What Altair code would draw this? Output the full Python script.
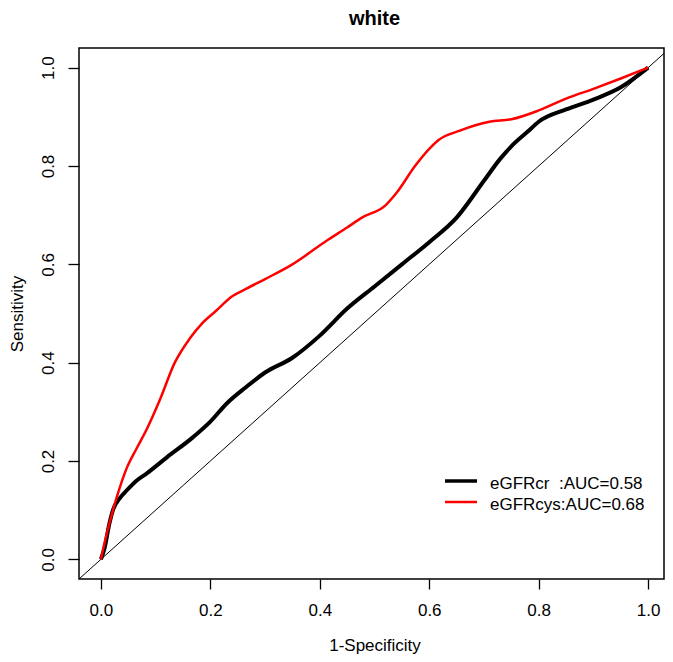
import altair as alt
import pandas as pd

# ---- data ----
red_x = [0, 0.008, 0.016, 0.03, 0.047, 0.065, 0.084, 0.108, 0.135, 0.163, 0.185, 0.21, 0.24, 0.265,
         0.3, 0.35, 0.415, 0.45, 0.477, 0.52, 0.54, 0.574, 0.6, 0.616, 0.656, 0.71, 0.75, 0.8,
         0.85, 0.9, 0.95, 1.0]
red_y = [0, 0.04, 0.075, 0.13, 0.185, 0.225, 0.265, 0.325, 0.4, 0.45, 0.48, 0.505, 0.535, 0.55,
         0.57, 0.6, 0.65, 0.675, 0.695, 0.72, 0.745, 0.8, 0.835, 0.852, 0.872, 0.89, 0.895, 0.913,
         0.937, 0.957, 0.978, 1.0]

black_x = [0, 0.007, 0.015, 0.022, 0.035, 0.047, 0.065, 0.084, 0.12, 0.168, 0.2, 0.23, 0.265,
           0.3, 0.35, 0.4, 0.45, 0.5, 0.55, 0.6, 0.65, 0.7, 0.73, 0.75, 0.78, 0.8, 0.85, 0.9,
           0.95, 1.0]
black_y = [0, 0.024, 0.07, 0.1, 0.125, 0.14, 0.16, 0.175, 0.207, 0.248, 0.28, 0.317, 0.35,
           0.38, 0.41, 0.455, 0.51, 0.555, 0.6, 0.645, 0.695, 0.77, 0.815, 0.84, 0.87, 0.89,
           0.915, 0.935, 0.96, 1.0]

series_names = ["eGFRcr\u00a0 :AUC=0.58", "eGFRcys:AUC=0.68"]
series_colors = ["#000000", "#ff0000"]
series_widths = [4, 2.5]
legend_widths = [3.5, 2.5]

diag_x = [-0.04, 1.04]
diag_y = [-0.04, 1.04]

x_ticks = [0, 0.2, 0.4, 0.6, 0.8, 1.0]
y_ticks = [0, 0.2, 0.4, 0.6, 0.8, 1.0]

title_text = "white"
x_title = "1-Specificity"
y_title = "Sensitivity"

FONT = "Liberation Sans"
W, H = 585, 531
X_MAX = 1.029

df_cr = pd.DataFrame({"x": black_x, "y": black_y, "series": series_names[0]})
df_cys = pd.DataFrame({"x": red_x, "y": red_y, "series": series_names[1]})
df_curves = pd.concat([df_cr, df_cys], ignore_index=True)
df_curves["order"] = range(len(df_curves))
df_diag = pd.DataFrame({"x": diag_x, "y": diag_y})

xscale = alt.Scale(domain=[-0.04, X_MAX], nice=False, zero=False)
yscale = alt.Scale(domain=[-0.04, 1.04], nice=False, zero=False)

xaxis = alt.Axis(values=x_ticks, format=".1f", title=x_title, grid=False, domain=False,
                 tickSize=10, tickWidth=1.3, tickColor="#000", labelFontSize=17, labelColor="#000",
                 labelFont=FONT, labelPadding=13, titleFont=FONT, titleFontSize=17,
                 titleFontWeight="normal", titleColor="#000", titleX=295.5, titleY=71,
                 titleBaseline="alphabetic")
yaxis = alt.Axis(values=y_ticks, format=".1f", title=y_title, grid=False, domain=False,
                 tickSize=11, tickWidth=1.3, tickColor="#000", labelFontSize=17, labelColor="#000",
                 labelFont=FONT, labelAngle=270, labelAlign="center", labelBaseline="alphabetic",
                 labelPadding=15, titleFont=FONT, titleFontSize=17, titleFontWeight="normal",
                 titleColor="#000", titleX=-57, titleY=H / 2, titleAngle=270,
                 titleBaseline="alphabetic")

diag = alt.Chart(df_diag).mark_line(color="#000", strokeWidth=1, clip=True).encode(
    x=alt.X("x:Q", scale=xscale, axis=xaxis),
    y=alt.Y("y:Q", scale=yscale, axis=yaxis),
)

curves = alt.Chart(df_curves).mark_line(interpolate="monotone").encode(
    x=alt.X("x:Q", scale=xscale, axis=xaxis),
    y=alt.Y("y:Q", scale=yscale, axis=yaxis),
    order="order:Q",
    color=alt.Color("series:N", scale=alt.Scale(domain=series_names, range=series_colors),
                    legend=None),
    strokeWidth=alt.StrokeWidth("series:N", scale=alt.Scale(domain=series_names, range=series_widths),
                                legend=None),
)

# legend (drawn as guide marks in the plot's lower right)
legend_layers = []
for i, (name, col, lw) in enumerate(zip(series_names, series_colors, legend_widths)):
    yy = 433 + 21 * i
    legend_layers.append(
        alt.Chart(pd.DataFrame({"label": [name]})).mark_rule(color=col, strokeWidth=lw).encode(
            x=alt.value(366), x2=alt.value(398), y=alt.value(yy))
    )
    legend_layers.append(
        alt.Chart(pd.DataFrame({"label": [name]})).mark_text(
            align="left", baseline="alphabetic", font=FONT, fontSize=17, color="#000").encode(
            text="label:N", x=alt.value(411), y=alt.value(yy + 8))
    )

title_layer = alt.Chart(pd.DataFrame({"t": [title_text]})).mark_text(
    align="center", baseline="alphabetic", font=FONT, fontSize=20, fontWeight="bold",
    color="#000").encode(text="t:N", x=alt.value(295.5), y=alt.value(-23))

chart = alt.layer(diag, curves, *legend_layers, title_layer).properties(
    width=W, height=H,
    autosize="none",
    padding={"left": 71, "top": 40, "right": 1, "bottom": 75},
).configure(background="white").configure_view(stroke="#000", strokeWidth=1.5)

chart.save("out.html", embed_options={"renderer": "svg", "actions": False})
